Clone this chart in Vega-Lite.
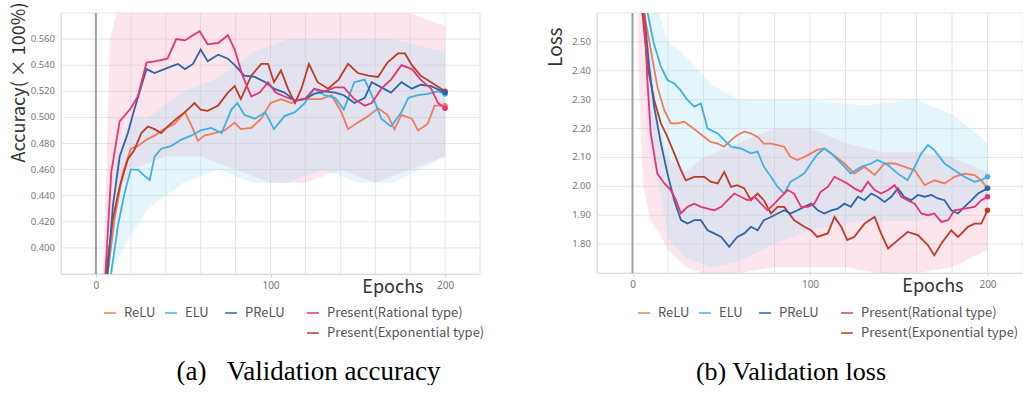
{
"$schema":"https://vega.github.io/schema/vega-lite/v6.json",
"padding":{"left":10,"top":2,"right":0,"bottom":0},
"bounds":"flush",
"spacing":117,
"background":"white",
"config":{"view":{"stroke":null},"axis":{"grid":false,"domainColor":"#d0d0d0","tickColor":"#d0d0d0","labelColor":"#777","labelFont":"Noto Sans","labelFontSize":9.5,"labelOverlap":false,"titleFont":"Noto Sans CJK JP","titleFontWeight":"normal","titleColor":"#333"},"legend":{"labelFont":"Noto Sans CJK JP","labelFontSize":13,"labelColor":"#555","labelLimit":300}},
"datasets":{
"gridX":[{"g":-20},{"g":0},{"g":20},{"g":40},{"g":60},{"g":80},{"g":100},{"g":120},{"g":140},{"g":160},{"g":180},{"g":200},{"g":220}],
"gridAcc":[{"g":0.38},{"g":0.40},{"g":0.42},{"g":0.44},{"g":0.46},{"g":0.48},{"g":0.50},{"g":0.52},{"g":0.54},{"g":0.56},{"g":0.58}],
"gridLoss":[{"g":1.7},{"g":1.8},{"g":1.9},{"g":2.0},{"g":2.1},{"g":2.2},{"g":2.3},{"g":2.4},{"g":2.5},{"g":2.6}],
"accBand":[
{"band":"pink","epoch":4,"lo":0.38,"hi":0.38},{"band":"pink","epoch":6,"lo":0.38,"hi":0.46},{"band":"pink","epoch":8,"lo":0.40,"hi":0.56},{"band":"pink","epoch":12,"lo":0.44,"hi":0.58},{"band":"pink","epoch":20,"lo":0.46,"hi":0.58},{"band":"pink","epoch":40,"lo":0.47,"hi":0.58},{"band":"pink","epoch":60,"lo":0.47,"hi":0.58},{"band":"pink","epoch":80,"lo":0.46,"hi":0.58},{"band":"pink","epoch":100,"lo":0.45,"hi":0.58},{"band":"pink","epoch":120,"lo":0.45,"hi":0.58},{"band":"pink","epoch":140,"lo":0.46,"hi":0.58},{"band":"pink","epoch":160,"lo":0.45,"hi":0.58},{"band":"pink","epoch":180,"lo":0.46,"hi":0.58},{"band":"pink","epoch":200,"lo":0.47,"hi":0.57},
{"band":"blue","epoch":8,"lo":0.38,"hi":0.40},{"band":"blue","epoch":12,"lo":0.39,"hi":0.47},{"band":"blue","epoch":20,"lo":0.41,"hi":0.50},{"band":"blue","epoch":30,"lo":0.43,"hi":0.50},{"band":"blue","epoch":50,"lo":0.45,"hi":0.52},{"band":"blue","epoch":70,"lo":0.46,"hi":0.53},{"band":"blue","epoch":90,"lo":0.45,"hi":0.55},{"band":"blue","epoch":110,"lo":0.45,"hi":0.56},{"band":"blue","epoch":130,"lo":0.46,"hi":0.56},{"band":"blue","epoch":150,"lo":0.45,"hi":0.56},{"band":"blue","epoch":170,"lo":0.45,"hi":0.56},{"band":"blue","epoch":200,"lo":0.47,"hi":0.55}
],
"lossBand":[
{"band":"pink","epoch":3,"lo":2.45,"hi":2.6},{"band":"pink","epoch":6,"lo":2.0,"hi":2.6},{"band":"pink","epoch":10,"lo":1.88,"hi":2.45},{"band":"pink","epoch":15,"lo":1.84,"hi":2.2},{"band":"pink","epoch":20,"lo":1.78,"hi":2.1},{"band":"pink","epoch":30,"lo":1.72,"hi":2.05},{"band":"pink","epoch":40,"lo":1.70,"hi":2.1},{"band":"pink","epoch":60,"lo":1.70,"hi":2.15},{"band":"pink","epoch":80,"lo":1.72,"hi":2.2},{"band":"pink","epoch":100,"lo":1.72,"hi":2.2},{"band":"pink","epoch":120,"lo":1.72,"hi":2.15},{"band":"pink","epoch":140,"lo":1.70,"hi":2.12},{"band":"pink","epoch":160,"lo":1.70,"hi":2.12},{"band":"pink","epoch":180,"lo":1.72,"hi":2.1},{"band":"pink","epoch":200,"lo":1.78,"hi":2.05},
{"band":"blue","epoch":8,"lo":2.2,"hi":2.6},{"band":"blue","epoch":15,"lo":2.0,"hi":2.6},{"band":"blue","epoch":20,"lo":1.82,"hi":2.5},{"band":"blue","epoch":30,"lo":1.75,"hi":2.45},{"band":"blue","epoch":45,"lo":1.72,"hi":2.35},{"band":"blue","epoch":60,"lo":1.74,"hi":2.3},{"band":"blue","epoch":80,"lo":1.80,"hi":2.3},{"band":"blue","epoch":100,"lo":1.85,"hi":2.3},{"band":"blue","epoch":130,"lo":1.88,"hi":2.28},{"band":"blue","epoch":160,"lo":1.88,"hi":2.3},{"band":"blue","epoch":180,"lo":1.90,"hi":2.25},{"band":"blue","epoch":200,"lo":1.95,"hi":2.15}
],
"acc":[
{"series":"ReLU","epoch":6,"value":0.372},{"series":"ReLU","epoch":7,"value":0.383},{"series":"ReLU","epoch":10.7,"value":0.422},{"series":"ReLU","epoch":15.5,"value":0.458},{"series":"ReLU","epoch":20,"value":0.476},{"series":"ReLU","epoch":24,"value":0.478},{"series":"ReLU","epoch":29,"value":0.483},{"series":"ReLU","epoch":33.6,"value":0.486},{"series":"ReLU","epoch":39,"value":0.491},{"series":"ReLU","epoch":45,"value":0.495},{"series":"ReLU","epoch":51,"value":0.504},{"series":"ReLU","epoch":55,"value":0.493},{"series":"ReLU","epoch":58.5,"value":0.482},{"series":"ReLU","epoch":62,"value":0.486},{"series":"ReLU","epoch":68,"value":0.488},{"series":"ReLU","epoch":73.7,"value":0.490},{"series":"ReLU","epoch":79.5,"value":0.496},{"series":"ReLU","epoch":83,"value":0.491},{"series":"ReLU","epoch":89,"value":0.492},{"series":"ReLU","epoch":94.7,"value":0.499},{"series":"ReLU","epoch":100,"value":0.511},{"series":"ReLU","epoch":106,"value":0.514},{"series":"ReLU","epoch":112,"value":0.511},{"series":"ReLU","epoch":117.7,"value":0.514},{"series":"ReLU","epoch":123,"value":0.514},{"series":"ReLU","epoch":129,"value":0.514},{"series":"ReLU","epoch":135,"value":0.517},{"series":"ReLU","epoch":140.6,"value":0.504},{"series":"ReLU","epoch":144.4,"value":0.491},{"series":"ReLU","epoch":150,"value":0.496},{"series":"ReLU","epoch":156,"value":0.501},{"series":"ReLU","epoch":161.6,"value":0.507},{"series":"ReLU","epoch":167,"value":0.502},{"series":"ReLU","epoch":171,"value":0.491},{"series":"ReLU","epoch":175,"value":0.502},{"series":"ReLU","epoch":181,"value":0.499},{"series":"ReLU","epoch":184.5,"value":0.490},{"series":"ReLU","epoch":190,"value":0.495},{"series":"ReLU","epoch":194,"value":0.509},{"series":"ReLU","epoch":200,"value":0.509},
{"series":"ELU","epoch":8,"value":0.37},{"series":"ELU","epoch":8.8,"value":0.381},{"series":"ELU","epoch":12.6,"value":0.417},{"series":"ELU","epoch":16.4,"value":0.442},{"series":"ELU","epoch":20,"value":0.460},{"series":"ELU","epoch":24,"value":0.460},{"series":"ELU","epoch":28,"value":0.455},{"series":"ELU","epoch":30.8,"value":0.452},{"series":"ELU","epoch":33.6,"value":0.470},{"series":"ELU","epoch":37.4,"value":0.476},{"series":"ELU","epoch":43,"value":0.478},{"series":"ELU","epoch":49,"value":0.483},{"series":"ELU","epoch":54.6,"value":0.486},{"series":"ELU","epoch":60,"value":0.490},{"series":"ELU","epoch":66,"value":0.492},{"series":"ELU","epoch":72,"value":0.488},{"series":"ELU","epoch":77.6,"value":0.506},{"series":"ELU","epoch":81,"value":0.511},{"series":"ELU","epoch":85,"value":0.502},{"series":"ELU","epoch":91,"value":0.499},{"series":"ELU","epoch":97,"value":0.504},{"series":"ELU","epoch":102,"value":0.491},{"series":"ELU","epoch":108,"value":0.501},{"series":"ELU","epoch":114,"value":0.504},{"series":"ELU","epoch":119.6,"value":0.511},{"series":"ELU","epoch":125,"value":0.522},{"series":"ELU","epoch":131,"value":0.517},{"series":"ELU","epoch":137,"value":0.515},{"series":"ELU","epoch":142,"value":0.506},{"series":"ELU","epoch":148,"value":0.527},{"series":"ELU","epoch":154,"value":0.529},{"series":"ELU","epoch":160,"value":0.511},{"series":"ELU","epoch":163.5,"value":0.499},{"series":"ELU","epoch":169,"value":0.493},{"series":"ELU","epoch":175,"value":0.504},{"series":"ELU","epoch":179,"value":0.515},{"series":"ELU","epoch":184.5,"value":0.517},{"series":"ELU","epoch":190,"value":0.518},{"series":"ELU","epoch":196,"value":0.520},{"series":"ELU","epoch":200,"value":0.518},
{"series":"Present(Exponential type)","epoch":5,"value":0.37},{"series":"Present(Exponential type)","epoch":6,"value":0.383},{"series":"Present(Exponential type)","epoch":9.7,"value":0.422},{"series":"Present(Exponential type)","epoch":13.6,"value":0.447},{"series":"Present(Exponential type)","epoch":18.3,"value":0.468},{"series":"Present(Exponential type)","epoch":22,"value":0.475},{"series":"Present(Exponential type)","epoch":26,"value":0.488},{"series":"Present(Exponential type)","epoch":29.8,"value":0.493},{"series":"Present(Exponential type)","epoch":33.6,"value":0.491},{"series":"Present(Exponential type)","epoch":37.4,"value":0.488},{"series":"Present(Exponential type)","epoch":41,"value":0.493},{"series":"Present(Exponential type)","epoch":47,"value":0.500},{"series":"Present(Exponential type)","epoch":51,"value":0.504},{"series":"Present(Exponential type)","epoch":56.5,"value":0.511},{"series":"Present(Exponential type)","epoch":60,"value":0.506},{"series":"Present(Exponential type)","epoch":64,"value":0.505},{"series":"Present(Exponential type)","epoch":70,"value":0.509},{"series":"Present(Exponential type)","epoch":75.6,"value":0.519},{"series":"Present(Exponential type)","epoch":79.5,"value":0.524},{"series":"Present(Exponential type)","epoch":83,"value":0.514},{"series":"Present(Exponential type)","epoch":89,"value":0.532},{"series":"Present(Exponential type)","epoch":94.7,"value":0.541},{"series":"Present(Exponential type)","epoch":98.6,"value":0.541},{"series":"Present(Exponential type)","epoch":102,"value":0.527},{"series":"Present(Exponential type)","epoch":106,"value":0.536},{"series":"Present(Exponential type)","epoch":110,"value":0.522},{"series":"Present(Exponential type)","epoch":114,"value":0.511},{"series":"Present(Exponential type)","epoch":117.7,"value":0.522},{"series":"Present(Exponential type)","epoch":122,"value":0.541},{"series":"Present(Exponential type)","epoch":127,"value":0.527},{"series":"Present(Exponential type)","epoch":133,"value":0.522},{"series":"Present(Exponential type)","epoch":139,"value":0.529},{"series":"Present(Exponential type)","epoch":144.4,"value":0.541},{"series":"Present(Exponential type)","epoch":150,"value":0.534},{"series":"Present(Exponential type)","epoch":156,"value":0.532},{"series":"Present(Exponential type)","epoch":161.6,"value":0.531},{"series":"Present(Exponential type)","epoch":167,"value":0.542},{"series":"Present(Exponential type)","epoch":173,"value":0.549},{"series":"Present(Exponential type)","epoch":177,"value":0.549},{"series":"Present(Exponential type)","epoch":181,"value":0.540},{"series":"Present(Exponential type)","epoch":186,"value":0.532},{"series":"Present(Exponential type)","epoch":192,"value":0.527},{"series":"Present(Exponential type)","epoch":200,"value":0.520},
{"series":"PReLU","epoch":6,"value":0.37},{"series":"PReLU","epoch":7,"value":0.386},{"series":"PReLU","epoch":9.7,"value":0.432},{"series":"PReLU","epoch":13.6,"value":0.470},{"series":"PReLU","epoch":18.3,"value":0.488},{"series":"PReLU","epoch":22,"value":0.506},{"series":"PReLU","epoch":26,"value":0.524},{"series":"PReLU","epoch":29,"value":0.537},{"series":"PReLU","epoch":33.6,"value":0.534},{"series":"PReLU","epoch":37.4,"value":0.536},{"series":"PReLU","epoch":41,"value":0.538},{"series":"PReLU","epoch":47,"value":0.541},{"series":"PReLU","epoch":51,"value":0.537},{"series":"PReLU","epoch":55.6,"value":0.541},{"series":"PReLU","epoch":60,"value":0.552},{"series":"PReLU","epoch":64,"value":0.543},{"series":"PReLU","epoch":70,"value":0.548},{"series":"PReLU","epoch":75.6,"value":0.545},{"series":"PReLU","epoch":79.5,"value":0.540},{"series":"PReLU","epoch":85,"value":0.532},{"series":"PReLU","epoch":91,"value":0.531},{"series":"PReLU","epoch":97,"value":0.527},{"series":"PReLU","epoch":102,"value":0.522},{"series":"PReLU","epoch":108,"value":0.519},{"series":"PReLU","epoch":114,"value":0.513},{"series":"PReLU","epoch":119.6,"value":0.514},{"series":"PReLU","epoch":125,"value":0.518},{"series":"PReLU","epoch":131,"value":0.520},{"series":"PReLU","epoch":137,"value":0.519},{"series":"PReLU","epoch":142,"value":0.517},{"series":"PReLU","epoch":148,"value":0.511},{"series":"PReLU","epoch":154,"value":0.515},{"series":"PReLU","epoch":158,"value":0.527},{"series":"PReLU","epoch":163.5,"value":0.523},{"series":"PReLU","epoch":169,"value":0.519},{"series":"PReLU","epoch":175,"value":0.527},{"series":"PReLU","epoch":181,"value":0.522},{"series":"PReLU","epoch":186,"value":0.525},{"series":"PReLU","epoch":192,"value":0.524},{"series":"PReLU","epoch":200,"value":0.519},
{"series":"Present(Rational type)","epoch":5,"value":0.37},{"series":"Present(Rational type)","epoch":8.8,"value":0.458},{"series":"Present(Rational type)","epoch":13.6,"value":0.497},{"series":"Present(Rational type)","epoch":20,"value":0.507},{"series":"Present(Rational type)","epoch":24,"value":0.516},{"series":"Present(Rational type)","epoch":29,"value":0.542},{"series":"Present(Rational type)","epoch":33.6,"value":0.543},{"series":"Present(Rational type)","epoch":41,"value":0.545},{"series":"Present(Rational type)","epoch":46,"value":0.560},{"series":"Present(Rational type)","epoch":51,"value":0.559},{"series":"Present(Rational type)","epoch":55.6,"value":0.563},{"series":"Present(Rational type)","epoch":59.4,"value":0.566},{"series":"Present(Rational type)","epoch":64,"value":0.556},{"series":"Present(Rational type)","epoch":70,"value":0.557},{"series":"Present(Rational type)","epoch":75.6,"value":0.563},{"series":"Present(Rational type)","epoch":79.5,"value":0.552},{"series":"Present(Rational type)","epoch":84,"value":0.532},{"series":"Present(Rational type)","epoch":89,"value":0.516},{"series":"Present(Rational type)","epoch":93.8,"value":0.519},{"series":"Present(Rational type)","epoch":98.6,"value":0.527},{"series":"Present(Rational type)","epoch":103,"value":0.519},{"series":"Present(Rational type)","epoch":108,"value":0.516},{"series":"Present(Rational type)","epoch":114,"value":0.513},{"series":"Present(Rational type)","epoch":119.6,"value":0.514},{"series":"Present(Rational type)","epoch":125,"value":0.522},{"series":"Present(Rational type)","epoch":131,"value":0.520},{"series":"Present(Rational type)","epoch":137,"value":0.523},{"series":"Present(Rational type)","epoch":142,"value":0.523},{"series":"Present(Rational type)","epoch":148,"value":0.514},{"series":"Present(Rational type)","epoch":154,"value":0.509},{"series":"Present(Rational type)","epoch":158,"value":0.511},{"series":"Present(Rational type)","epoch":163.5,"value":0.522},{"series":"Present(Rational type)","epoch":169,"value":0.529},{"series":"Present(Rational type)","epoch":175,"value":0.540},{"series":"Present(Rational type)","epoch":181,"value":0.537},{"series":"Present(Rational type)","epoch":186,"value":0.529},{"series":"Present(Rational type)","epoch":192,"value":0.522},{"series":"Present(Rational type)","epoch":196,"value":0.511},{"series":"Present(Rational type)","epoch":200,"value":0.507}
],
"loss":[
{"series":"ReLU","epoch":5,"value":2.75},{"series":"ReLU","epoch":6.6,"value":2.60},{"series":"ReLU","epoch":10.3,"value":2.472},{"series":"ReLU","epoch":14,"value":2.345},{"series":"ReLU","epoch":17.9,"value":2.264},{"series":"ReLU","epoch":21.6,"value":2.218},{"series":"ReLU","epoch":25.4,"value":2.218},{"series":"ReLU","epoch":29,"value":2.224},{"series":"ReLU","epoch":33,"value":2.206},{"series":"ReLU","epoch":36.7,"value":2.189},{"series":"ReLU","epoch":40.4,"value":2.171},{"series":"ReLU","epoch":44,"value":2.154},{"series":"ReLU","epoch":48,"value":2.148},{"series":"ReLU","epoch":51.7,"value":2.137},{"series":"ReLU","epoch":55.5,"value":2.160},{"series":"ReLU","epoch":59,"value":2.177},{"series":"ReLU","epoch":63,"value":2.189},{"series":"ReLU","epoch":66.7,"value":2.183},{"series":"ReLU","epoch":70.5,"value":2.171},{"series":"ReLU","epoch":74,"value":2.148},{"series":"ReLU","epoch":78,"value":2.148},{"series":"ReLU","epoch":81.8,"value":2.143},{"series":"ReLU","epoch":85.5,"value":2.137},{"series":"ReLU","epoch":89,"value":2.102},{"series":"ReLU","epoch":93,"value":2.091},{"series":"ReLU","epoch":96.8,"value":2.102},{"series":"ReLU","epoch":100.6,"value":2.114},{"series":"ReLU","epoch":104,"value":2.126},{"series":"ReLU","epoch":108,"value":2.131},{"series":"ReLU","epoch":112,"value":2.114},{"series":"ReLU","epoch":115.7,"value":2.097},{"series":"ReLU","epoch":119.4,"value":2.079},{"series":"ReLU","epoch":125,"value":2.044},{"series":"ReLU","epoch":130.7,"value":2.068},{"series":"ReLU","epoch":136.4,"value":2.039},{"series":"ReLU","epoch":142,"value":2.079},{"series":"ReLU","epoch":147.7,"value":2.079},{"series":"ReLU","epoch":153,"value":2.068},{"series":"ReLU","epoch":159,"value":2.056},{"series":"ReLU","epoch":164.6,"value":2.004},{"series":"ReLU","epoch":170,"value":2.021},{"series":"ReLU","epoch":175.8,"value":2.010},{"series":"ReLU","epoch":181.4,"value":2.033},{"series":"ReLU","epoch":187,"value":2.044},{"series":"ReLU","epoch":192.7,"value":2.039},{"series":"ReLU","epoch":196.5,"value":2.021},{"series":"ReLU","epoch":200,"value":1.993},
{"series":"ELU","epoch":6,"value":2.75},{"series":"ELU","epoch":8.5,"value":2.60},{"series":"ELU","epoch":12,"value":2.495},{"series":"ELU","epoch":16,"value":2.414},{"series":"ELU","epoch":19.7,"value":2.368},{"series":"ELU","epoch":23.5,"value":2.356},{"series":"ELU","epoch":27,"value":2.333},{"series":"ELU","epoch":31,"value":2.299},{"series":"ELU","epoch":34.8,"value":2.276},{"series":"ELU","epoch":38.5,"value":2.287},{"series":"ELU","epoch":42.3,"value":2.200},{"series":"ELU","epoch":48,"value":2.183},{"series":"ELU","epoch":51.7,"value":2.160},{"series":"ELU","epoch":55.5,"value":2.137},{"series":"ELU","epoch":61,"value":2.131},{"series":"ELU","epoch":66.7,"value":2.114},{"series":"ELU","epoch":70.5,"value":2.120},{"series":"ELU","epoch":74,"value":2.068},{"series":"ELU","epoch":78,"value":2.033},{"series":"ELU","epoch":81.8,"value":1.998},{"series":"ELU","epoch":85.5,"value":1.975},{"series":"ELU","epoch":89,"value":2.016},{"series":"ELU","epoch":93,"value":2.030},{"series":"ELU","epoch":96.8,"value":2.045},{"series":"ELU","epoch":100.6,"value":2.080},{"series":"ELU","epoch":104,"value":2.110},{"series":"ELU","epoch":108,"value":2.131},{"series":"ELU","epoch":112,"value":2.114},{"series":"ELU","epoch":115.7,"value":2.091},{"series":"ELU","epoch":119.4,"value":2.068},{"series":"ELU","epoch":123,"value":2.044},{"series":"ELU","epoch":129,"value":2.068},{"series":"ELU","epoch":134.4,"value":2.079},{"series":"ELU","epoch":138,"value":2.091},{"series":"ELU","epoch":144,"value":2.073},{"series":"ELU","epoch":149.5,"value":2.044},{"series":"ELU","epoch":155,"value":2.021},{"series":"ELU","epoch":159,"value":2.068},{"series":"ELU","epoch":162.7,"value":2.114},{"series":"ELU","epoch":166.5,"value":2.143},{"series":"ELU","epoch":170,"value":2.126},{"series":"ELU","epoch":175.8,"value":2.079},{"series":"ELU","epoch":181.4,"value":2.056},{"series":"ELU","epoch":187,"value":2.033},{"series":"ELU","epoch":192.7,"value":2.016},{"series":"ELU","epoch":196.5,"value":2.021},{"series":"ELU","epoch":200,"value":2.033},
{"series":"Present(Exponential type)","epoch":4,"value":2.8},{"series":"Present(Exponential type)","epoch":5.6,"value":2.60},{"series":"Present(Exponential type)","epoch":8.5,"value":2.414},{"series":"Present(Exponential type)","epoch":12.2,"value":2.299},{"series":"Present(Exponential type)","epoch":16,"value":2.218},{"series":"Present(Exponential type)","epoch":19.7,"value":2.171},{"series":"Present(Exponential type)","epoch":23.5,"value":2.114},{"series":"Present(Exponential type)","epoch":27.3,"value":2.056},{"series":"Present(Exponential type)","epoch":30,"value":2.021},{"series":"Present(Exponential type)","epoch":34.8,"value":2.033},{"series":"Present(Exponential type)","epoch":40.4,"value":2.033},{"series":"Present(Exponential type)","epoch":44,"value":2.016},{"series":"Present(Exponential type)","epoch":48,"value":2.010},{"series":"Present(Exponential type)","epoch":51.7,"value":2.050},{"series":"Present(Exponential type)","epoch":55.5,"value":1.998},{"series":"Present(Exponential type)","epoch":59,"value":2.004},{"series":"Present(Exponential type)","epoch":63,"value":1.993},{"series":"Present(Exponential type)","epoch":66.7,"value":1.952},{"series":"Present(Exponential type)","epoch":70.5,"value":1.975},{"series":"Present(Exponential type)","epoch":74,"value":1.952},{"series":"Present(Exponential type)","epoch":78,"value":1.906},{"series":"Present(Exponential type)","epoch":81.8,"value":1.929},{"series":"Present(Exponential type)","epoch":85.5,"value":1.929},{"series":"Present(Exponential type)","epoch":91,"value":1.883},{"series":"Present(Exponential type)","epoch":96.8,"value":1.860},{"series":"Present(Exponential type)","epoch":100.6,"value":1.848},{"series":"Present(Exponential type)","epoch":104,"value":1.825},{"series":"Present(Exponential type)","epoch":110,"value":1.837},{"series":"Present(Exponential type)","epoch":113.8,"value":1.894},{"series":"Present(Exponential type)","epoch":117.6,"value":1.860},{"series":"Present(Exponential type)","epoch":121,"value":1.814},{"series":"Present(Exponential type)","epoch":125,"value":1.825},{"series":"Present(Exponential type)","epoch":130.7,"value":1.871},{"series":"Present(Exponential type)","epoch":136.4,"value":1.894},{"series":"Present(Exponential type)","epoch":140,"value":1.837},{"series":"Present(Exponential type)","epoch":144,"value":1.785},{"series":"Present(Exponential type)","epoch":149.5,"value":1.814},{"series":"Present(Exponential type)","epoch":155,"value":1.842},{"series":"Present(Exponential type)","epoch":160.8,"value":1.831},{"series":"Present(Exponential type)","epoch":166.5,"value":1.796},{"series":"Present(Exponential type)","epoch":170,"value":1.761},{"series":"Present(Exponential type)","epoch":174,"value":1.802},{"series":"Present(Exponential type)","epoch":179.6,"value":1.848},{"series":"Present(Exponential type)","epoch":183.4,"value":1.825},{"series":"Present(Exponential type)","epoch":189,"value":1.860},{"series":"Present(Exponential type)","epoch":192.7,"value":1.871},{"series":"Present(Exponential type)","epoch":196.5,"value":1.871},{"series":"Present(Exponential type)","epoch":200,"value":1.917},
{"series":"PReLU","epoch":5,"value":2.8},{"series":"PReLU","epoch":6.6,"value":2.60},{"series":"PReLU","epoch":9.4,"value":2.414},{"series":"PReLU","epoch":12.2,"value":2.276},{"series":"PReLU","epoch":16,"value":2.149},{"series":"PReLU","epoch":19.7,"value":2.044},{"series":"PReLU","epoch":23.5,"value":1.952},{"series":"PReLU","epoch":27.3,"value":1.883},{"series":"PReLU","epoch":31,"value":1.871},{"series":"PReLU","epoch":34.8,"value":1.883},{"series":"PReLU","epoch":38.5,"value":1.883},{"series":"PReLU","epoch":42.3,"value":1.848},{"series":"PReLU","epoch":46,"value":1.837},{"series":"PReLU","epoch":50,"value":1.825},{"series":"PReLU","epoch":54.5,"value":1.791},{"series":"PReLU","epoch":59,"value":1.825},{"series":"PReLU","epoch":63,"value":1.837},{"series":"PReLU","epoch":66.7,"value":1.860},{"series":"PReLU","epoch":70.5,"value":1.848},{"series":"PReLU","epoch":74,"value":1.883},{"series":"PReLU","epoch":78,"value":1.894},{"series":"PReLU","epoch":81.8,"value":1.906},{"series":"PReLU","epoch":85.5,"value":1.917},{"series":"PReLU","epoch":89,"value":1.906},{"series":"PReLU","epoch":93,"value":1.917},{"series":"PReLU","epoch":96.8,"value":1.929},{"series":"PReLU","epoch":100.6,"value":1.940},{"series":"PReLU","epoch":104.4,"value":1.917},{"series":"PReLU","epoch":108,"value":1.906},{"series":"PReLU","epoch":112,"value":1.917},{"series":"PReLU","epoch":115.7,"value":1.923},{"series":"PReLU","epoch":119.4,"value":1.940},{"series":"PReLU","epoch":123,"value":1.929},{"series":"PReLU","epoch":127,"value":1.964},{"series":"PReLU","epoch":130.7,"value":1.952},{"series":"PReLU","epoch":134.5,"value":1.975},{"series":"PReLU","epoch":138,"value":1.964},{"series":"PReLU","epoch":142,"value":1.946},{"series":"PReLU","epoch":145.8,"value":1.964},{"series":"PReLU","epoch":149.5,"value":1.993},{"series":"PReLU","epoch":153,"value":1.964},{"series":"PReLU","epoch":157,"value":1.952},{"series":"PReLU","epoch":160.8,"value":1.970},{"series":"PReLU","epoch":164.6,"value":1.964},{"series":"PReLU","epoch":168.4,"value":1.970},{"series":"PReLU","epoch":172,"value":1.958},{"series":"PReLU","epoch":175.8,"value":1.952},{"series":"PReLU","epoch":179.6,"value":1.917},{"series":"PReLU","epoch":183.4,"value":1.906},{"series":"PReLU","epoch":187,"value":1.929},{"series":"PReLU","epoch":191,"value":1.952},{"series":"PReLU","epoch":194.7,"value":1.975},{"series":"PReLU","epoch":200,"value":1.993},
{"series":"Present(Rational type)","epoch":5,"value":2.9},{"series":"Present(Rational type)","epoch":6.6,"value":2.60},{"series":"Present(Rational type)","epoch":8.5,"value":2.356},{"series":"Present(Rational type)","epoch":10.3,"value":2.183},{"series":"Present(Rational type)","epoch":14,"value":2.044},{"series":"Present(Rational type)","epoch":18,"value":2.010},{"series":"Present(Rational type)","epoch":21.6,"value":1.987},{"series":"Present(Rational type)","epoch":24.5,"value":1.952},{"series":"Present(Rational type)","epoch":27.3,"value":1.906},{"series":"Present(Rational type)","epoch":31,"value":1.929},{"series":"Present(Rational type)","epoch":34.8,"value":1.940},{"series":"Present(Rational type)","epoch":38.5,"value":1.929},{"series":"Present(Rational type)","epoch":42.3,"value":1.923},{"series":"Present(Rational type)","epoch":46,"value":1.917},{"series":"Present(Rational type)","epoch":50,"value":1.929},{"series":"Present(Rational type)","epoch":53.6,"value":1.952},{"series":"Present(Rational type)","epoch":57.4,"value":1.975},{"series":"Present(Rational type)","epoch":61,"value":1.964},{"series":"Present(Rational type)","epoch":65,"value":1.952},{"series":"Present(Rational type)","epoch":68.7,"value":1.964},{"series":"Present(Rational type)","epoch":72.4,"value":1.940},{"series":"Present(Rational type)","epoch":76,"value":1.917},{"series":"Present(Rational type)","epoch":80,"value":1.940},{"series":"Present(Rational type)","epoch":83.7,"value":1.964},{"series":"Present(Rational type)","epoch":87.5,"value":1.987},{"series":"Present(Rational type)","epoch":91,"value":1.975},{"series":"Present(Rational type)","epoch":95,"value":1.929},{"series":"Present(Rational type)","epoch":98.8,"value":1.929},{"series":"Present(Rational type)","epoch":102.5,"value":1.940},{"series":"Present(Rational type)","epoch":106,"value":1.981},{"series":"Present(Rational type)","epoch":110,"value":1.998},{"series":"Present(Rational type)","epoch":113.8,"value":2.033},{"series":"Present(Rational type)","epoch":117.6,"value":2.021},{"series":"Present(Rational type)","epoch":121,"value":2.010},{"series":"Present(Rational type)","epoch":125,"value":1.993},{"series":"Present(Rational type)","epoch":128.9,"value":1.981},{"series":"Present(Rational type)","epoch":132.6,"value":2.016},{"series":"Present(Rational type)","epoch":136.4,"value":1.987},{"series":"Present(Rational type)","epoch":140,"value":1.975},{"series":"Present(Rational type)","epoch":144,"value":1.987},{"series":"Present(Rational type)","epoch":147.7,"value":2.004},{"series":"Present(Rational type)","epoch":151.4,"value":1.964},{"series":"Present(Rational type)","epoch":155,"value":1.952},{"series":"Present(Rational type)","epoch":159,"value":1.940},{"series":"Present(Rational type)","epoch":162.7,"value":1.906},{"series":"Present(Rational type)","epoch":166.5,"value":1.900},{"series":"Present(Rational type)","epoch":170,"value":1.906},{"series":"Present(Rational type)","epoch":174,"value":1.877},{"series":"Present(Rational type)","epoch":177.8,"value":1.883},{"series":"Present(Rational type)","epoch":181.4,"value":1.917},{"series":"Present(Rational type)","epoch":187,"value":1.923},{"series":"Present(Rational type)","epoch":192.7,"value":1.929},{"series":"Present(Rational type)","epoch":196.5,"value":1.952},{"series":"Present(Rational type)","epoch":200,"value":1.964}
]
},
"hconcat":[
{
"width":419,"height":261,
"title":{"text":"(a)\u00a0\u00a0\u00a0Validation accuracy","orient":"bottom","frame":"group","anchor":"middle","dx":38,"offset":19,"font":"Liberation Serif","fontSize":27,"fontWeight":"normal","color":"#000"},
"layer":[
{"data":{"name":"gridX"},"mark":{"type":"rule","color":"#e4e4e4","strokeWidth":1},
 "encoding":{"x":{"field":"g","type":"quantitative","title":"Epochs","scale":{"domain":[-20,220]},"axis":{"values":[0,100,200],"labelFontSize":10,"tickSize":3,"labelPadding":3,"title":"Epochs","titleFontSize":18,"titleX":362,"titleY":18,"titleAlign":"right","titleBaseline":"alphabetic","titleAnchor":"start"}}}},
{"data":{"name":"gridAcc"},"mark":{"type":"rule","color":"#e4e4e4","strokeWidth":1},
 "encoding":{"y":{"field":"g","type":"quantitative","title":"Accuracy( × 100%)","scale":{"domain":[0.38,0.58]},"axis":{"values":[0.40,0.48,0.56],"labels":false,"ticks":false,"title":"Accuracy( × 100%)","titleFontSize":18,"titleAnchor":"end","titleY":-11,"titleX":-37,"titleBaseline":"alphabetic","titleAlign":"right","titleAngle":270}}}},
{"data":{"name":"gridAcc"},"transform":[{"filter":"datum.g > 0.39 && datum.g < 0.57"}],"mark":{"type":"text","align":"right","baseline":"middle","dx":-6,"font":"Noto Sans","fontSize":9.5,"color":"#777"},
 "encoding":{"x":{"datum":-20,"type":"quantitative","title":"Epochs"},"y":{"field":"g","type":"quantitative","title":"Accuracy( × 100%)"},"text":{"field":"g","type":"quantitative","format":".3f"}}},
{"data":{"name":"accBand"},"transform":[{"filter":"datum.band === 'pink'"}],"mark":{"type":"area","color":"#f6a9c3","opacity":0.3,"clip":true},
 "encoding":{"x":{"field":"epoch","type":"quantitative","title":"Epochs"},"y":{"field":"lo","type":"quantitative","title":"Accuracy( × 100%)"},"y2":{"field":"hi"}}},
{"data":{"name":"accBand"},"transform":[{"filter":"datum.band === 'blue'"}],"mark":{"type":"area","color":"#a9def5","opacity":0.3,"clip":true},
 "encoding":{"x":{"field":"epoch","type":"quantitative","title":"Epochs"},"y":{"field":"lo","type":"quantitative","title":"Accuracy( × 100%)"},"y2":{"field":"hi"}}},
{"data":{"values":[{}]},"mark":{"type":"rule","color":"#a0a0a0","strokeWidth":2},"encoding":{"x":{"datum":0,"type":"quantitative","title":"Epochs"}}},
{"data":{"name":"acc"},"mark":{"type":"line","strokeWidth":1.8,"clip":true},
 "encoding":{
  "x":{"field":"epoch","type":"quantitative","title":"Epochs"},
  "y":{"field":"value","type":"quantitative","title":"Accuracy( × 100%)"},
  "color":{"field":"series","type":"nominal","scale":{"domain":["ReLU","ELU","PReLU","Present(Rational type)"," ","  ","   ","Present(Exponential type)"],"range":["#ef7b5a","#40b0e0","#2c66a8","#e8336e","rgba(0,0,0,0)","rgba(0,0,0,0)","rgba(0,0,0,0)","#c03a28"]},
   "legend":{"orient":"none","legendX":42,"legendY":293,"columns":4,"direction":"horizontal","title":null,"symbolType":"stroke","symbolStrokeWidth":1.5,"symbolSize":140,"labelOffset":7,"columnPadding":0,"rowPadding":6,
    "labelExpr":"datum.value === ' ' ? 'ReLUx' : datum.value === '  ' ? 'ELUxx' : datum.value === '   ' ? 'PReLUxxx' : datum.label",
    "encode":{"labels":{"update":{"opacity":{"signal":"datum.value === ' ' || datum.value === '  ' || datum.value === '   ' ? 0 : 1"}}}}}}
 }},
{"data":{"name":"acc"},"transform":[{"filter":"datum.epoch === 200"}],"mark":{"type":"circle","size":30,"opacity":1},
 "encoding":{"x":{"field":"epoch","type":"quantitative","title":"Epochs"},"y":{"field":"value","type":"quantitative","title":"Accuracy( × 100%)"},"color":{"field":"series","type":"nominal"}}}
]
},
{
"width":426,"height":260,
"title":{"text":"(b) Validation loss","orient":"bottom","frame":"group","anchor":"middle","dx":-19,"offset":19,"font":"Liberation Serif","fontSize":26,"fontWeight":"normal","color":"#000"},
"layer":[
{"data":{"name":"gridX"},"mark":{"type":"rule","color":"#e4e4e4","strokeWidth":1},
 "encoding":{"x":{"field":"g","type":"quantitative","title":"Epochs","scale":{"domain":[-20,220]},"axis":{"values":[0,100,200],"labelFontSize":10,"tickSize":3,"labelPadding":3,"title":"Epochs","titleFontSize":18,"titleX":366,"titleY":18,"titleAlign":"right","titleBaseline":"alphabetic","titleAnchor":"start"}}}},
{"data":{"name":"gridLoss"},"mark":{"type":"rule","color":"#e4e4e4","strokeWidth":1},
 "encoding":{"y":{"field":"g","type":"quantitative","title":"Loss","scale":{"domain":[1.70,2.60]},"axis":{"values":[1.8,2.2,2.5],"labels":false,"ticks":false,"title":"Loss","titleFontSize":19,"titleAnchor":"end","titleY":14,"titleX":-36,"titleBaseline":"alphabetic","titleAlign":"right","titleAngle":270}}}},
{"data":{"name":"gridLoss"},"transform":[{"filter":"datum.g > 1.75 && datum.g < 2.55"}],"mark":{"type":"text","align":"right","baseline":"middle","dx":-6,"font":"Noto Sans","fontSize":9.5,"color":"#777"},
 "encoding":{"x":{"datum":-20,"type":"quantitative","title":"Epochs"},"y":{"field":"g","type":"quantitative","title":"Loss"},"text":{"field":"g","type":"quantitative","format":".2f"}}},
{"data":{"name":"lossBand"},"transform":[{"filter":"datum.band === 'pink'"}],"mark":{"type":"area","color":"#f6a9c3","opacity":0.3,"clip":true},
 "encoding":{"x":{"field":"epoch","type":"quantitative","title":"Epochs"},"y":{"field":"lo","type":"quantitative","title":"Loss"},"y2":{"field":"hi"}}},
{"data":{"name":"lossBand"},"transform":[{"filter":"datum.band === 'blue'"}],"mark":{"type":"area","color":"#a9def5","opacity":0.3,"clip":true},
 "encoding":{"x":{"field":"epoch","type":"quantitative","title":"Epochs"},"y":{"field":"lo","type":"quantitative","title":"Loss"},"y2":{"field":"hi"}}},
{"data":{"values":[{}]},"mark":{"type":"rule","color":"#a0a0a0","strokeWidth":2},"encoding":{"x":{"datum":0,"type":"quantitative","title":"Epochs"}}},
{"data":{"name":"loss"},"mark":{"type":"line","strokeWidth":1.8,"clip":true},
 "encoding":{
  "x":{"field":"epoch","type":"quantitative","title":"Epochs"},
  "y":{"field":"value","type":"quantitative","title":"Loss"},
  "color":{"field":"series","type":"nominal","scale":{"domain":["ReLU","ELU","PReLU","Present(Rational type)"," ","  ","   ","Present(Exponential type)"],"range":["#ef7b5a","#40b0e0","#2c66a8","#e8336e","rgba(0,0,0,0)","rgba(0,0,0,0)","rgba(0,0,0,0)","#c03a28"]},
   "legend":{"orient":"none","legendX":40,"legendY":293,"columns":4,"direction":"horizontal","title":null,"symbolType":"stroke","symbolStrokeWidth":1.5,"symbolSize":140,"labelOffset":7,"columnPadding":0,"rowPadding":6,
    "labelExpr":"datum.value === ' ' ? 'ReLUx' : datum.value === '  ' ? 'ELUxx' : datum.value === '   ' ? 'PReLUxxx' : datum.label",
    "encode":{"labels":{"update":{"opacity":{"signal":"datum.value === ' ' || datum.value === '  ' || datum.value === '   ' ? 0 : 1"}}}}}}
 }},
{"data":{"name":"loss"},"transform":[{"filter":"datum.epoch === 200"}],"mark":{"type":"circle","size":30,"opacity":1},
 "encoding":{"x":{"field":"epoch","type":"quantitative","title":"Epochs"},"y":{"field":"value","type":"quantitative","title":"Loss"},"color":{"field":"series","type":"nominal"}}}
]
}
],
"resolve":{"scale":{"x":"independent","y":"independent","color":"independent"},"legend":{"color":"independent"}}
}
